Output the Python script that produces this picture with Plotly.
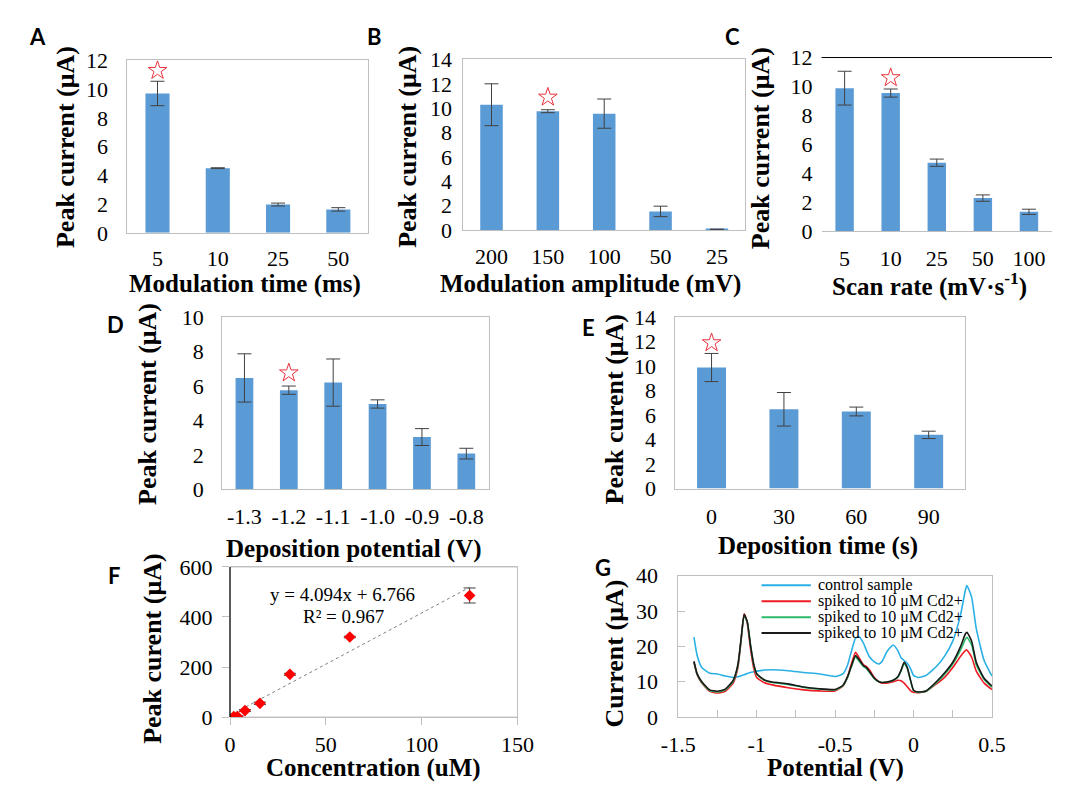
import plotly.graph_objects as go

W, H = 1069, 794

# ---------------- data ----------------
a_cats = ["5", "10", "25", "50"]
a_vals = [9.7, 4.5, 1.97, 1.63]
a_errs = [0.85, 0.03, 0.1, 0.12]
a_star_x, a_star_y = ["5"], [11.3]

b_cats = ["200", "150", "100", "50", "25"]
b_vals = [10.28, 9.75, 9.55, 1.52, 0.05]
b_errs = [1.72, 0.12, 1.2, 0.43, 0.0]
b_star_x, b_star_y = ["150"], [10.9]

c_cats = ["5", "10", "25", "50", "100"]
c_vals = [9.88, 9.54, 4.72, 2.27, 1.32]
c_errs = [1.17, 0.28, 0.25, 0.22, 0.18]
c_star_x, c_star_y = ["10"], [10.6]

d_cats = ["-1.3", "-1.2", "-1.1", "-1.0", "-0.9", "-0.8"]
d_vals = [6.47, 5.76, 6.2, 4.96, 3.04, 2.08]
d_errs = [1.4, 0.24, 1.37, 0.24, 0.49, 0.31]
d_star_x, d_star_y = ["-1.2"], [6.76]

e_cats = ["0", "30", "60", "90"]
e_vals = [9.88, 6.47, 6.29, 4.38]
e_errs = [1.15, 1.37, 0.36, 0.3]
e_star_x, e_star_y = ["0"], [11.9]

f_conc = [1.95, 3.9, 7.8, 15.6, 31.25, 62.5, 125]
f_peak = [2, 2, 26, 55, 171, 320, 486]
f_err = [3, 3, 4, 5, 4, 3, 30]
f_slope, f_intercept = 4.094, 6.766
f_fit_x = [0, 125]

g_pot = [-1.40, -1.38, -1.35, -1.30, -1.25, -1.20, -1.15, -1.12, -1.10, -1.08,
         -1.06, -1.04, -1.02, -1.00, -0.95, -0.90, -0.80, -0.70, -0.60, -0.50,
         -0.45, -0.42, -0.40, -0.37, -0.35, -0.32, -0.30, -0.28, -0.25, -0.22,
         -0.20, -0.17, -0.13, -0.10, -0.08, -0.06, -0.04, -0.02, 0.00, 0.03,
         0.08, 0.15, 0.20, 0.25, 0.30, 0.33, 0.34, 0.37, 0.40, 0.45, 0.50]
g_control = [22.6, 17.5, 14.0, 12.4, 12.2, 11.6, 11.2, 11.4, 11.7, 12.0,
             12.3, 12.6, 12.8, 13.0, 13.3, 13.4, 13.1, 12.6, 12.2, 11.5,
             12.2, 14.8, 18.0, 22.3, 22.8, 21.0, 18.8, 17.0, 15.6, 15.0,
             15.8, 18.5, 20.4, 18.8, 16.8, 16.0, 15.2, 13.8, 11.8, 11.2,
             11.8, 14.5, 17.4, 21.5, 29.0, 35.8, 37.2, 34.0, 25.0, 16.0, 11.6]
g_red = [15.5, 12.0, 9.6, 7.3, 6.8, 7.3, 9.6, 14.0, 21.5, 29.2,
         26.5, 19.5, 14.0, 11.2, 9.7, 9.1, 8.3, 7.7, 7.4, 7.4,
         8.8, 11.5, 14.5, 18.3, 17.0, 14.8, 14.3, 13.3, 11.2, 10.0,
         9.6, 9.6, 10.0, 10.4, 10.3, 9.6, 8.6, 7.5, 7.0, 6.9,
         7.3, 9.5, 11.3, 14.0, 17.2, 18.8, 19.0, 17.0, 13.0, 9.6, 7.8]
g_green = [15.6, 12.1, 9.8, 7.5, 7.1, 7.7, 10.1, 14.5, 21.5, 28.6,
           26.8, 20.5, 15.0, 12.1, 10.4, 9.8, 9.2, 8.4, 7.9, 7.7,
           8.9, 11.3, 13.8, 17.0, 16.0, 14.3, 13.7, 12.6, 10.9, 10.0,
           9.8, 9.9, 10.4, 11.3, 13.0, 15.2, 13.8, 10.4, 7.5, 7.0,
           7.3, 9.9, 12.2, 15.0, 19.0, 22.0, 22.6, 20.5, 14.8, 10.6, 8.5]
g_black = [15.8, 12.3, 10.0, 7.7, 7.3, 7.9, 10.4, 14.8, 22.0, 29.0,
           27.0, 20.5, 15.2, 12.3, 10.5, 9.9, 9.4, 8.5, 8.0, 7.8,
           9.0, 11.5, 14.0, 17.4, 16.4, 14.6, 14.0, 12.8, 11.0, 10.0,
           9.8, 9.9, 10.4, 11.4, 13.2, 15.5, 14.0, 10.6, 7.6, 7.1,
           7.4, 10.2, 12.6, 15.5, 20.0, 23.5, 24.0, 21.5, 15.5, 11.0, 8.8]
g_names = ["control sample", "spiked to 10 \u03bcM Cd2+", "spiked to 10 \u03bcM Cd2+", "spiked to 10 \u03bcM Cd2+"]
g_colors = ["#2bb0e6", "#ee1c24", "#2dba6a", "#1a1a1a"]
g_ticks = [-1.5, -1, -0.5, 0, 0.5]
g_ticktext = ["-1.5", "-1", "-0.5", "0", "0.5"]

# ---------------- style ----------------
SERIF = "Liberation Serif"
SANS = "Lato"
GRAY = "#bfbfbf"
BAR = "#5b9bd5"
ERR = "#404040"
STAR = "#e8323c"
TICKF = dict(family=SERIF, size=22, color="black")


def xd(l, r):
    return [max(0, l / W), min(1, r / W)]


def yd(t, b):
    return [max(0, 1 - b / H), min(1, 1 - t / H)]


def ax(n, kind):
    return kind if n == 1 else f"{kind}{n}"


fig = go.Figure()
layout = dict(width=W, height=H, margin=dict(l=0, r=0, t=0, b=0),
              paper_bgcolor="white", plot_bgcolor="white", bargap=0.6,
              showlegend=False)

# (n, cats, vals, errs, star x, star y, box px (l, r, t, b), ymax, frame, x label standoff, y label standoff)
bar_panels = [
    (1, a_cats, a_vals, a_errs, a_star_x, a_star_y, (114, 363, 50, 228), 12, True, 6, 14),
    (2, b_cats, b_vals, b_errs, b_star_x, b_star_y, (461, 752, 49, 225), 14, True, 7, 6),
    (3, c_cats, c_vals, c_errs, c_star_x, c_star_y, (831, 1069, 47, 226), 12, False, 8, 8),
    (4, d_cats, d_vals, d_errs, d_star_x, d_star_y, (212, 487, 315, 493), 10, True, 7, 13),
    (5, e_cats, e_vals, e_errs, e_star_x, e_star_y, (680, 979, 315, 492), 14, True, 8, 14),
]

for n, cats, vals, errs, sx, sy, box, ymax, frame, xs, ys_ in bar_panels:
    fig.add_trace(go.Bar(x=cats, y=vals, marker=dict(color=BAR, line=dict(width=0)),
                         error_y=dict(type="data", array=errs, color=ERR, thickness=1, width=7),
                         xaxis=ax(n, "x"), yaxis=ax(n, "y")))
    fig.add_trace(go.Scatter(x=sx, y=sy, mode="markers",
                             marker=dict(symbol="star-open", size=14, color=STAR,
                                         line=dict(color=STAR, width=1)),
                             xaxis=ax(n, "x"), yaxis=ax(n, "y")))
    layout[ax(n, "xaxis")] = dict(domain=xd(box[0], box[1]), anchor=ax(n, "y"), type="category",
                                  showline=True, linecolor=GRAY, linewidth=1, mirror=frame,
                                  ticks="", tickfont=TICKF, showgrid=False, zeroline=False,
                                  ticklabelstandoff=xs)
    layout[ax(n, "yaxis")] = dict(domain=yd(box[2], box[3]), anchor=ax(n, "x"),
                                  range=[0, ymax], dtick=2, showline=frame, linecolor=GRAY,
                                  linewidth=1, mirror=frame, ticks="", tickfont=TICKF,
                                  showgrid=False, zeroline=False, ticklabelstandoff=ys_)

# Panel F
FB = (220, 517, 573, 728)
fig.add_trace(go.Scatter(x=f_fit_x, y=[f_slope * v + f_intercept for v in f_fit_x], mode="lines",
                         line=dict(color="#7f7f7f", width=1, dash="dot"),
                         xaxis="x6", yaxis="y6"))
fig.add_trace(go.Scatter(x=f_conc, y=f_peak, mode="markers",
                         marker=dict(symbol="diamond", size=9, color="#ff0000"),
                         error_y=dict(type="data", array=f_err, color=ERR, thickness=1, width=6),
                         xaxis="x6", yaxis="y6"))
layout["xaxis6"] = dict(domain=xd(FB[0], FB[1]), anchor="y6", range=[0, 150], dtick=50,
                        showline=True, linecolor=GRAY, mirror=True, ticks="outside", ticklen=7,
                        tickcolor=GRAY, tickfont=TICKF, showgrid=False, zeroline=False,
                        ticklabelstandoff=1)
layout["yaxis6"] = dict(domain=yd(FB[2], FB[3]), anchor="x6", range=[0, 600], dtick=200,
                        showline=False, ticks="outside", ticklen=7, tickcolor=GRAY,
                        tickfont=TICKF, showgrid=False, zeroline=False, ticklabelstandoff=5)

# Panel G
GB = (683, 1007, 582, 728)
for name, ys, col in zip(g_names, [g_control, g_red, g_green, g_black], g_colors):
    fig.add_trace(go.Scatter(x=g_pot, y=ys, mode="lines", name=name,
                             line=dict(color=col, width=1.6, shape="spline", smoothing=0.5),
                             xaxis="x7", yaxis="y7"))
layout["xaxis7"] = dict(domain=xd(GB[0], GB[1]), anchor="y7", range=[-1.5, 0.5],
                        tickvals=g_ticks, ticktext=g_ticktext,
                        showline=True, linecolor=GRAY, mirror=True, ticks="inside", ticklen=7,
                        tickcolor=GRAY, minor=dict(dtick=0.25, ticks="inside", ticklen=7, tickcolor=GRAY),
                        tickfont=TICKF, showgrid=False, zeroline=False, ticklabelstandoff=8)
layout["yaxis7"] = dict(domain=yd(GB[2], GB[3]), anchor="x7", range=[0, 40], dtick=10,
                        showline=True, linecolor=GRAY, mirror=True, ticks="inside", ticklen=7,
                        tickcolor=GRAY, tickfont=TICKF, showgrid=False, zeroline=False,
                        ticklabelstandoff=15)

# shapes: frame of F and black left axis, black top line of C, legend keys of G
shapes = [
    dict(type="rect", xref="x6 domain", yref="y6 domain", x0=0, x1=1, y0=0, y1=1,
         line=dict(color=GRAY, width=1), layer="below"),
    dict(type="line", xref="x6 domain", yref="y6 domain", x0=0, x1=0, y0=0, y1=1,
         line=dict(color="black", width=1.2)),
    dict(type="line", xref="paper", yref="paper", x0=831 / W, x1=1, y0=1 - 47 / H, y1=1 - 47 / H,
         line=dict(color="black", width=1)),
]

ann = []


def text(x, y, s, size, angle=0, bold=True, family=SERIF, xanchor="center"):
    ann.append(dict(x=x / W, y=1 - y / H, xref="paper", yref="paper", text=(f"<b>{s}</b>" if bold else s),
                    showarrow=False, textangle=angle, xanchor=xanchor, yanchor="middle",
                    font=dict(family=family, size=size, color="black")))


# legend of G (key lines + labels)
for i, (name, col) in enumerate(zip(g_names, g_colors)):
    yy = 592 + i * 16.4
    shapes.append(dict(type="line", xref="paper", yref="paper", x0=769 / W, x1=820 / W,
                       y0=1 - yy / H, y1=1 - yy / H, line=dict(color=col, width=2)))
    text(825, yy, name, 16, bold=False, xanchor="left")
layout["shapes"] = shapes

for s, x, y in [("A", 21, 25), ("B", 369, 25), ("C", 739, 25), ("D", 102, 323),
                ("E", 590, 326), ("F", 100, 582), ("G", 605, 574)]:
    text(x, y, s, 22, family=SANS)

text(235, 281, "Modulation time (ms)", 25)
text(50, 139, "Peak current (\u03bcA)", 26, -90)
text(592, 281, "Modulation amplitude (mV)", 25)
text(403, 139, "Peak current (\u03bcA)", 26, -90)
text(942, 281, "Scan rate (mV\u00b7s<sup>-1</sup>)", 25)
text(768, 141, "Peak current (\u03bcA)", 26, -90)
text(348, 554, "Deposition potential (V)", 25)
text(135, 405, "Peak current (\u03bcA)", 26, -90)
text(827, 551, "Deposition time (s)", 25)
text(617, 410, "Peak curent (\u03bcA)", 26, -90)
text(368, 781, "Concentration (uM)", 25)
text(140, 658, "Peak curent (\u03bcA)", 26, -90)
text(845, 781, "Potential (V)", 25)
text(617, 662, "Current (\u03bcA)", 26, -90)

ann.append(dict(x=58.5, y=488, xref="x6", yref="y6", text="y = 4.094x + 6.766", showarrow=False,
                font=dict(family=SERIF, size=19, color="black")))
ann.append(dict(x=59, y=402, xref="x6", yref="y6", text="R\u00b2 = 0.967", showarrow=False,
                font=dict(family=SERIF, size=19, color="black")))
layout["annotations"] = ann

fig.update_layout(**layout)
fig.write_html("out.html", config={"displayModeBar": False},
               post_script="document.body.style.margin='0px';")
